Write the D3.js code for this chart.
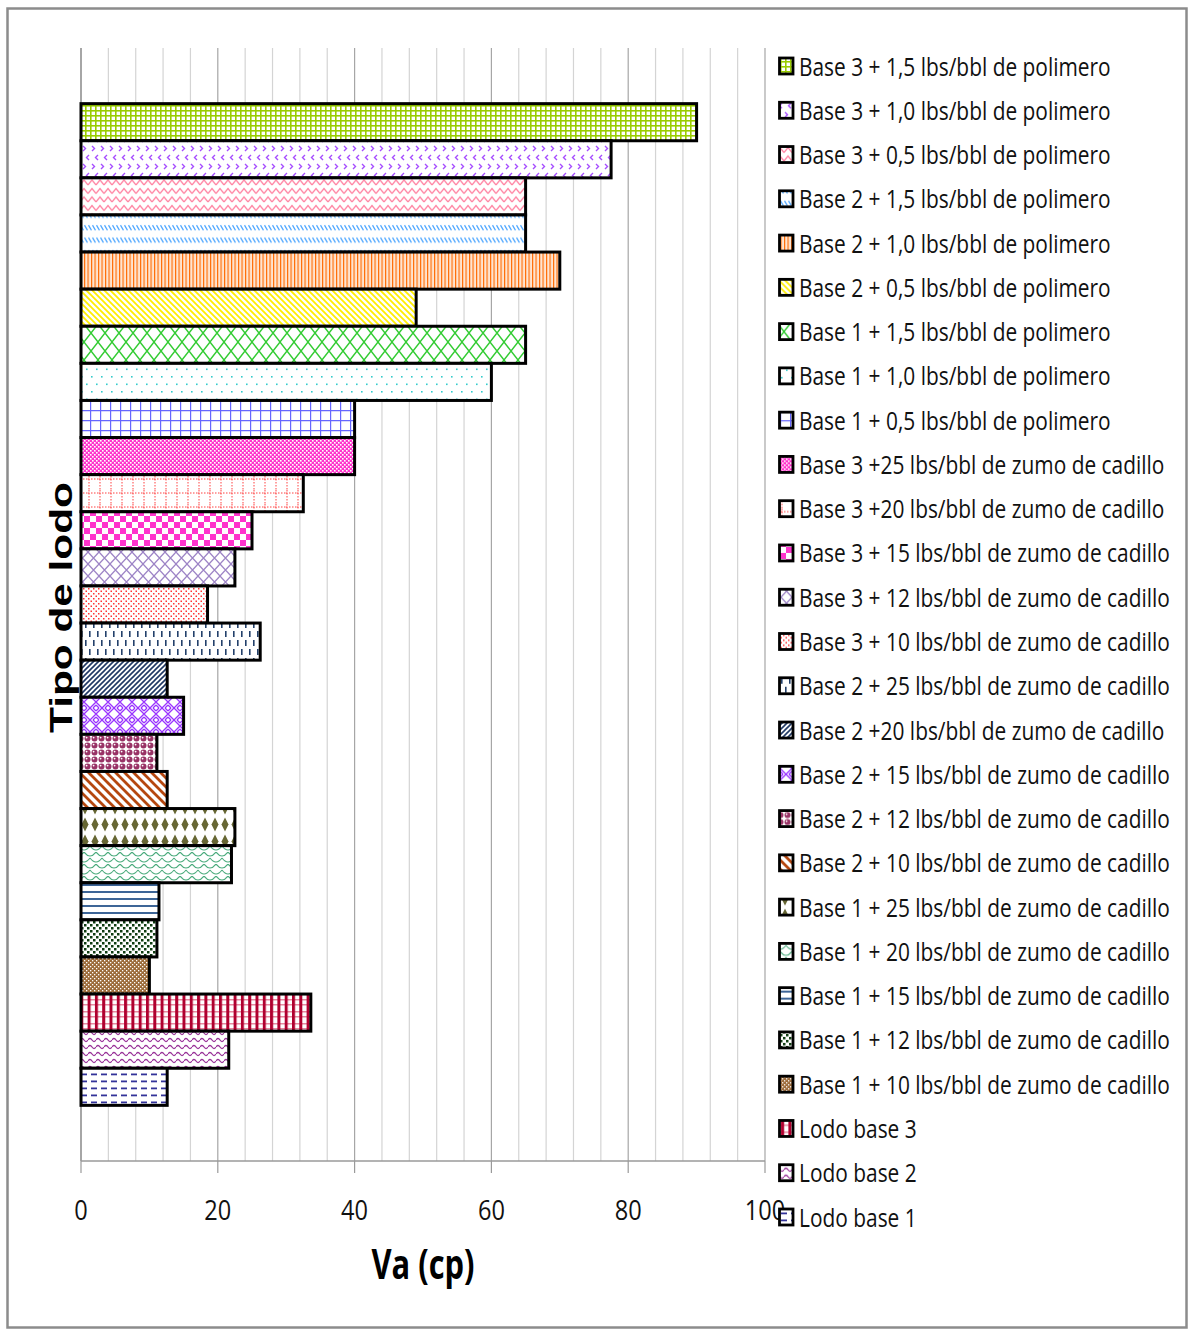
<!DOCTYPE html>
<html>
<head>
<meta charset="utf-8">
<script src="https://cdn.jsdelivr.net/npm/d3@7"></script>
<style>
html,body{margin:0;padding:0;background:#fff;}
svg{display:block;}
</style>
</head>
<body>
<svg id="chart" width="1189" height="1330"></svg>
<script>
// ---------------- DATA ----------------
const categories = [
  "Base 3 + 1,5 lbs/bbl de polimero",
  "Base 3 + 1,0 lbs/bbl de polimero",
  "Base 3 + 0,5 lbs/bbl de polimero",
  "Base 2 + 1,5 lbs/bbl de polimero",
  "Base 2 + 1,0 lbs/bbl de polimero",
  "Base 2 + 0,5 lbs/bbl de polimero",
  "Base 1 + 1,5 lbs/bbl de polimero",
  "Base 1 + 1,0 lbs/bbl de polimero",
  "Base 1 + 0,5 lbs/bbl de polimero",
  "Base 3 +25 lbs/bbl de zumo de cadillo",
  "Base 3 +20 lbs/bbl de zumo de cadillo",
  "Base 3 + 15 lbs/bbl de zumo de cadillo",
  "Base 3 + 12 lbs/bbl de zumo de cadillo",
  "Base 3 + 10 lbs/bbl de zumo de cadillo",
  "Base 2 + 25 lbs/bbl de zumo de cadillo",
  "Base 2 +20 lbs/bbl de zumo de cadillo",
  "Base 2 + 15 lbs/bbl de zumo de cadillo",
  "Base 2 + 12 lbs/bbl de zumo de cadillo",
  "Base 2 + 10 lbs/bbl de zumo de cadillo",
  "Base 1 + 25 lbs/bbl de zumo de cadillo",
  "Base 1 + 20 lbs/bbl de zumo de cadillo",
  "Base 1 + 15 lbs/bbl de zumo de cadillo",
  "Base 1 + 12 lbs/bbl de zumo de cadillo",
  "Base 1 + 10 lbs/bbl de zumo de cadillo",
  "Lodo base 3",
  "Lodo base 2",
  "Lodo base 1"
];
const values = [90, 77.5, 65, 65, 70, 49, 65, 60, 40, 40, 32.5, 25, 22.5, 18.5, 26.2,
                12.6, 15, 11.1, 12.6, 22.5, 22, 11.4, 11.1, 10, 33.6, 21.6, 12.6];
const xTicks = [0, 20, 40, 60, 80, 100];
const xTitle = "Va (cp)";
const yTitle = "Tipo de lodo";

// ---------------- LAYOUT ----------------
const svg = d3.select("#chart");
const plot = {left: 81, right: 765, top: 48, bottom: 1161};
const x = d3.scaleLinear().domain([0, 100]).range([plot.left, plot.right]);
const y = d3.scaleBand().domain(categories).range([plot.top, plot.bottom]).paddingInner(0).paddingOuter(1.5);
const legendY = d3.scalePoint().domain(categories).range([66, 1217]);

// outer border
svg.append("rect").attr("x", 7.5).attr("y", 8.5).attr("width", 1179).attr("height", 1319)
  .attr("fill", "#fff").attr("stroke", "#8c8c8c").attr("stroke-width", 2.5);

// ---------------- PATTERNS ----------------
const defs = svg.append("defs");
function pat(id, w, h, draw, bg) {
  const p = defs.append("pattern").attr("id", id).attr("patternUnits", "userSpaceOnUse")
    .attr("width", w).attr("height", h);
  p.append("rect").attr("width", w).attr("height", h).attr("fill", bg || "#fff");
  draw(p);
}
const R = (p, x0, y0, w, h, c) => p.append("rect").attr("x", x0).attr("y", y0).attr("width", w).attr("height", h).attr("fill", c);
const P = (p, d, c, sw) => p.append("path").attr("d", d).attr("fill", "none").attr("stroke", c).attr("stroke-width", sw);

const patterns = [
  p => pat(p, 5, 5, q => { R(q, 1.6, 1.6, 3.4, 3.4, "#fff"); }, "#99cc00"),
  p => pat(p, 9, 18, q => { P(q, "M2,2 L4.5,4.5 L2,7", "#a64dff", 1.4); P(q, "M8,11 L5.5,13.5 L8,16", "#a64dff", 1.4); }),
  p => pat(p, 8, 8.5, q => { P(q, "M0,6.5 L4,1.5 L8,6.5", "#ff80a0", 1.4); }),
  p => pat(p, 4, 12.4, q => { P(q, "M0.5,2 L3.5,7", "#4da6ff", 1.3); }),
  p => pat(p, 3.5, 4, q => { R(q, 0, 0, 1.4, 4, "#ff6a00"); R(q, 1.4, 0, 2.1, 4, "#ffe4cf"); }),
  p => pat(p, 6, 6, q => { P(q, "M-1.5,-1.5 L7.5,7.5 M-1.5,4.5 L1.5,7.5 M4.5,-1.5 L7.5,1.5", "#ffee00", 1.8); }),
  p => pat(p, 14, 18, q => { P(q, "M0,0 L14,18 M14,0 L0,18", "#33cc33", 1.4); }),
  p => pat(p, 10, 15, q => { R(q, 1, 1, 1.6, 1.6, "#33cccc"); R(q, 6, 8.5, 1.6, 1.6, "#33cccc"); }),
  p => pat(p, 10, 10, q => { P(q, "M0,0.6 H10 M0.6,0 V10", "#6666ff", 1.2); }),
  p => pat(p, 4, 4, q => { R(q, 0, 0, 1.6, 1.6, "#fff"); R(q, 2, 2, 1.6, 1.6, "#fff"); }, "#ff33cc"),
  p => pat(p, 11, 14, q => { P(q, "M1,0 V14", "#ff4040", 1).attr("stroke-dasharray", "1.5,1.5"); P(q, "M0,3 H11", "#ff4040", 1).attr("stroke-dasharray", "1.5,1.5"); }),
  p => pat(p, 12, 12, q => { R(q, 0, 0, 6, 6, "#ff33cc"); R(q, 6, 6, 6, 6, "#ff33cc"); }),
  p => pat(p, 11, 12, q => { P(q, "M0,0 L11,12 M11,0 L0,12", "#9d84c6", 1.3); }),
  p => pat(p, 5, 5, q => { R(q, 0.5, 0.5, 1.5, 1.5, "#ff3333"); R(q, 3, 3, 1.5, 1.5, "#ff3333"); }),
  p => pat(p, 8, 18, q => { R(q, 1, 1, 1.6, 6, "#23406b"); R(q, 5, 10, 1.6, 6, "#23406b"); }),
  p => pat(p, 5, 5, q => { P(q, "M-1,6 L6,-1 M-1,1 L1,-1 M4,6 L6,4", "#1f3864", 1.6); }),
  p => pat(p, 12, 12, q => { P(q, "M0,3 L3,0 M0,6 L6,0 M6,0 L12,6 M9,0 L12,3 M0,6 L6,12 M0,9 L3,12 M6,12 L12,6 M9,12 L12,9", "#9933ff", 1.3); }),
  p => pat(p, 7, 7, q => { q.append("circle").attr("cx", 3.5).attr("cy", 3.5).attr("r", 3).attr("fill", "#993366"); q.append("circle").attr("cx", 2.6).attr("cy", 2.6).attr("r", 0.9).attr("fill", "#fff"); }),
  p => pat(p, 9, 9, q => { P(q, "M-2,-2 L11,11 M-2,7 L2,11 M7,-2 L11,2", "#b5470f", 2.8); }),
  p => pat(p, 10, 17, q => { q.append("polygon").attr("points", "5,1.5 8.5,8.5 5,15.5 1.5,8.5").attr("fill", "#666633"); }),
  p => pat(p, 12, 12, q => { P(q, "M0,0 Q6,8 12,0 M-6,6 Q0,14 6,6 M6,6 Q12,14 18,6", "#4aab7c", 1.2); }),
  p => pat(p, 4, 7, q => { R(q, 0, 2, 4, 2, "#3d6597"); }),
  p => pat(p, 6, 6, q => { R(q, 0, 0, 2.5, 2.5, "#0f3d12"); R(q, 3, 3, 2.5, 2.5, "#0f3d12"); }),
  p => pat(p, 4, 4, q => { R(q, 0, 0, 1.3, 1.3, "#fff"); R(q, 2, 2, 1.3, 1.3, "#fff"); }, "#9c6b3a"),
  p => pat(p, 7.3, 12, q => { R(q, 0, 3, 7.3, 1.5, "#e58aa0"); R(q, 0, 8, 7.3, 1.5, "#e58aa0"); R(q, 0, 0, 3, 12, "#b0002f"); }),
  p => pat(p, 8, 7, q => { P(q, "M0,4 Q2,1 4,4 T8,4", "#993399", 1.3); }),
  p => pat(p, 10, 7, q => { R(q, 1, 2.5, 6, 1.8, "#333399"); })
];
categories.forEach((c, i) => patterns[i]("pat" + i));

// ---------------- GRID ----------------
const minor = d3.range(0, 101, 4);
svg.append("g").selectAll("line").data(minor).join("line")
  .attr("x1", d => x(d)).attr("x2", d => x(d))
  .attr("y1", plot.top).attr("y2", plot.bottom)
  .attr("stroke", d => d % 20 === 0 ? "#a6a6a6" : "#d4d4d4").attr("stroke-width", 1.2);

// x axis line
svg.append("line").attr("x1", plot.left).attr("x2", plot.right).attr("y1", plot.bottom).attr("y2", plot.bottom)
  .attr("stroke", "#9a9a9a").attr("stroke-width", 1.5);
svg.append("g").selectAll("line").data(xTicks).join("line")
  .attr("x1", d => x(d)).attr("x2", d => x(d)).attr("y1", plot.bottom).attr("y2", plot.bottom + 12)
  .attr("stroke", "#9a9a9a").attr("stroke-width", 1.2);
// y axis line
svg.append("line").attr("x1", plot.left).attr("x2", plot.left).attr("y1", plot.top).attr("y2", plot.bottom)
  .attr("stroke", "#9a9a9a").attr("stroke-width", 1.5);

// ---------------- BARS ----------------
svg.append("g").selectAll("rect").data(categories).join("rect")
  .attr("x", x(0)).attr("y", d => y(d))
  .attr("width", (d, i) => x(values[i]) - x(0)).attr("height", y.bandwidth())
  .attr("fill", (d, i) => `url(#pat${i})`)
  .attr("stroke", "#000").attr("stroke-width", 3);

// ---------------- TEXT HELPERS ----------------
const sans = "'Open Sans', 'Noto Sans', sans-serif";
function measure(str, size, weight, family) {
  const t = svg.append("text").attr("font-family", family).attr("font-size", size).attr("font-weight", weight).text(str);
  const w = t.node().getComputedTextLength();
  t.remove();
  return w;
}

// tick labels
const tickSize = 27;
const kTick = 27 / measure("20", tickSize, 400, sans);
svg.append("g").selectAll("text").data(xTicks).join("text")
  .attr("transform", d => `translate(${x(d)},1220) scale(${kTick},1)`)
  .attr("text-anchor", "middle").attr("font-family", sans).attr("font-size", tickSize)
  .attr("fill", "#111").text(d => d);

// x title
const xtSize = 41;
const kX = 103 / measure(xTitle, xtSize, 700, sans);
svg.append("text").attr("transform", `translate(${(plot.left + plot.right) / 2},1279) scale(${kX},1)`)
  .attr("text-anchor", "middle").attr("font-family", sans).attr("font-size", xtSize).attr("font-weight", 700)
  .attr("fill", "#000").text(xTitle);

// y title
const ytFam = "'Liberation Sans', Arial, sans-serif";
const ytSize = 31;
const kY = 251 / measure(yTitle, ytSize, 700, ytFam);
svg.append("text").attr("transform", `translate(72,607.5) rotate(-90) scale(${kY},1)`)
  .attr("text-anchor", "middle").attr("font-family", ytFam).attr("font-size", ytSize).attr("font-weight", 700)
  .attr("fill", "#000").text(yTitle);

// ---------------- LEGEND ----------------
const legSize = 25;
const kL = 371 / measure("Base 3 + 15 lbs/bbl de zumo de cadillo", legSize, 400, sans);
const leg = svg.append("g").selectAll("g").data(categories).join("g")
  .attr("transform", d => `translate(0,${legendY(d)})`);
leg.append("rect").attr("x", 779.5).attr("y", -8).attr("width", 13.5).attr("height", 16)
  .attr("fill", (d, i) => `url(#pat${i})`).attr("stroke", "#000").attr("stroke-width", 2.8);
leg.append("text").attr("transform", `translate(799,9.5) scale(${kL},1)`)
  .attr("font-family", sans).attr("font-size", legSize).attr("fill", "#111").text(d => d);
</script>
</body>
</html>
